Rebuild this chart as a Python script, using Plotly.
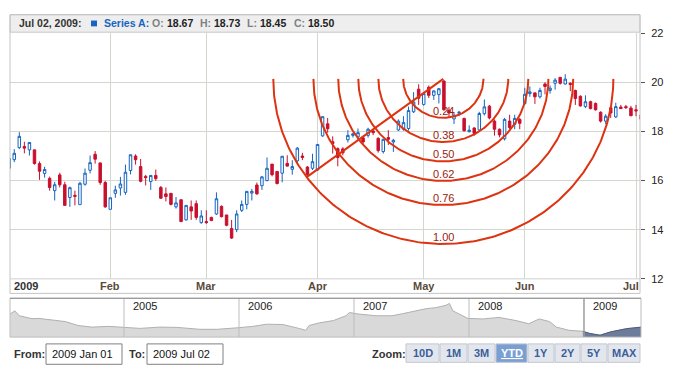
import math
import numpy as np
import plotly.graph_objects as go

W, H = 700, 380

# ---------------- data ----------------
month_labels = ["2009", "Feb", "Mar", "Apr", "May", "Jun", "Jul"]
month_start_idx = [0, 20, 39, 61, 82, 102, 124]

opens = [16.50, 16.85, 17.34, 17.39, 17.25, 17.25, 16.69, 16.29, 16.09, 15.59,
         16.23, 15.83, 15.31, 15.40, 15.02, 15.85, 16.42, 17.07, 16.72, 15.92,
         14.83, 15.48, 15.70, 15.52, 16.41, 17.00, 16.57, 16.17, 15.96, 16.21,
         15.72, 15.46, 15.48, 14.93, 15.22, 14.40, 14.93, 15.06, 14.29, 14.33,
         14.50, 14.64, 14.95, 14.60, 14.05, 14.00, 14.79, 15.03, 15.49, 15.82,
         15.79, 16.00, 16.67, 16.37, 16.30, 16.70, 16.46, 16.80, 17.00, 16.55,
         16.50, 16.43, 17.82, 18.31, 17.58, 17.30, 17.29, 17.66, 17.84, 17.78,
         17.74, 17.84, 18.02, 17.72, 17.18, 17.75, 17.57, 18.06, 18.09, 18.12,
         18.80, 19.72, 19.10, 19.80, 19.47, 19.50, 20.05, 18.86, 18.51, 18.74,
         18.53, 17.99, 18.14, 18.06, 18.72, 19.03, 18.42, 18.09, 17.70, 18.42,
         18.29, 18.49, 19.14, 19.54, 19.57, 19.41, 19.93, 19.67, 19.96, 20.20,
         19.93, 19.96, 19.67, 19.43, 19.01, 19.21, 19.14, 18.78, 18.42, 18.96,
         18.59, 18.99, 19.01, 18.95, 18.88, 18.67]
highs = [17.00, 17.28, 17.97, 17.58, 17.55, 17.25, 16.78, 16.56, 16.16, 15.95,
         16.32, 15.95, 15.75, 15.59, 15.95, 16.49, 17.02, 17.20, 16.72, 15.99,
         15.30, 15.79, 16.15, 16.65, 17.05, 17.07, 16.88, 16.23, 16.21, 16.45,
         15.78, 15.72, 15.48, 15.33, 15.22, 14.99, 15.19, 15.19, 14.79, 14.79,
         14.53, 15.52, 14.99, 14.60, 14.40, 14.79, 15.19, 15.56, 15.66, 15.92,
         16.19, 16.94, 16.67, 16.37, 16.99, 17.03, 16.83, 17.36, 17.13, 16.59,
         17.09, 17.49, 18.62, 18.55, 17.80, 17.35, 17.36, 18.05, 17.95, 18.12,
         17.82, 18.15, 18.10, 17.76, 17.70, 18.05, 17.70, 18.49, 18.62, 19.01,
         19.60, 19.92, 19.60, 19.87, 19.67, 19.76, 20.09, 19.00, 18.78, 18.84,
         18.56, 18.25, 18.17, 18.80, 19.30, 19.08, 18.49, 18.12, 18.55, 18.68,
         18.68, 18.55, 19.78, 19.83, 19.57, 19.78, 20.00, 19.87, 20.17, 20.22,
         20.33, 20.00, 19.70, 19.47, 19.47, 19.25, 19.18, 18.82, 18.70, 19.00,
         19.17, 19.08, 19.08, 19.04, 19.08, 18.73]
lows = [16.40, 16.75, 17.28, 17.11, 17.02, 16.65, 16.03, 16.12, 15.59, 15.19,
        15.72, 14.99, 14.93, 14.99, 15.02, 15.79, 16.29, 16.69, 15.83, 14.89,
        14.83, 15.30, 15.39, 15.42, 16.25, 16.65, 15.93, 15.80, 15.62, 15.99,
        15.25, 15.15, 14.99, 14.86, 14.31, 14.37, 14.40, 14.40, 14.24, 14.24,
        14.37, 14.60, 14.50, 14.14, 13.62, 13.90, 14.72, 14.83, 15.19, 15.42,
        15.62, 15.97, 16.17, 15.84, 15.93, 16.57, 16.24, 16.70, 16.83, 16.10,
        16.43, 16.40, 17.78, 17.95, 17.10, 16.58, 17.03, 17.55, 17.75, 17.66,
        17.49, 17.75, 17.85, 17.14, 17.10, 17.45, 17.17, 18.02, 18.03, 18.03,
        18.75, 19.08, 19.05, 19.36, 19.28, 19.14, 18.85, 18.60, 18.30, 18.62,
        17.99, 17.96, 17.83, 18.03, 18.65, 18.49, 17.83, 17.76, 17.63, 18.09,
        18.09, 18.09, 19.08, 19.41, 19.12, 19.34, 19.51, 19.54, 19.70, 19.91,
        19.91, 19.64, 19.08, 19.01, 18.95, 18.90, 18.85, 18.36, 18.29, 18.55,
        18.55, 18.92, 18.92, 18.62, 18.62, 18.45]
closes = [16.90, 17.11, 17.80, 17.32, 17.55, 16.69, 16.38, 16.45, 15.72, 15.83,
          15.83, 14.99, 15.71, 15.36, 15.89, 16.30, 16.73, 16.87, 15.92, 14.93,
          15.30, 15.62, 15.86, 16.34, 17.05, 16.85, 15.97, 16.12, 16.21, 16.08,
          15.28, 15.35, 15.03, 15.09, 14.33, 14.99, 14.76, 14.50, 14.56, 14.29,
          14.37, 15.26, 14.53, 14.18, 13.66, 14.64, 15.03, 15.56, 15.56, 15.46,
          16.15, 16.50, 16.24, 15.88, 16.99, 16.59, 16.57, 17.32, 16.94, 16.25,
          16.77, 17.47, 18.60, 18.11, 17.51, 16.94, 17.13, 17.84, 17.90, 17.95,
          17.57, 18.09, 17.95, 17.22, 17.68, 17.68, 17.64, 18.42, 18.36, 18.85,
          19.20, 19.35, 19.54, 19.47, 19.65, 19.74, 18.88, 18.75, 18.66, 18.78,
          18.03, 18.05, 17.92, 18.73, 19.00, 18.55, 18.09, 17.86, 18.49, 18.16,
          18.53, 18.33, 19.51, 19.61, 19.41, 19.67, 19.83, 19.76, 20.09, 19.96,
          20.13, 19.91, 19.34, 19.04, 19.21, 18.93, 18.88, 18.42, 18.62, 18.75,
          19.01, 18.93, 18.97, 18.64, 18.84, 18.50]
day_idx = list(range(len(opens)))

y_ticks = [12, 14, 16, 18, 20, 22]

# Fibonacci arc anchors (trading-day index, price)
fib_x = [58.85, 85.88]
fib_y = [16.14, 20.14]
fib_levels = [0.236, 0.382, 0.5, 0.618, 0.764, 1.0]
fib_labels = ["0.24", "0.38", "0.50", "0.62", "0.76", "1.00"]

# navigator (fractional year, value)
nav_year = [2004.01, 2004.05, 2004.09, 2004.20, 2004.26, 2004.35, 2004.49, 2004.60,
            2004.72, 2004.87, 2005.00, 2005.14, 2005.31, 2005.46, 2005.66, 2005.81,
            2006.00, 2006.12, 2006.24, 2006.38, 2006.52, 2006.58, 2006.61, 2006.70,
            2006.82, 2006.93, 2006.96, 2007.04, 2007.19, 2007.33, 2007.42, 2007.54,
            2007.63, 2007.71, 2007.80, 2007.83, 2007.86, 2007.99, 2008.12, 2008.26,
            2008.41, 2008.52, 2008.61, 2008.70, 2008.76, 2008.87, 2008.99, 2009.05,
            2009.14, 2009.23, 2009.37, 2009.50]
nav_value = [34.7, 38.2, 32.8, 29.6, 29.9, 28.6, 26.4, 22.1,
             20.3, 21.1, 20.3, 18.9, 20.3, 20.0, 17.9, 17.9,
             19.7, 21.1, 23.5, 23.2, 18.9, 16.8, 22.1, 25.0,
             27.5, 32.8, 36.4, 34.7, 32.8, 32.8, 35.0, 38.2,
             40.7, 41.7, 44.3, 46.4, 38.2, 29.9, 29.3, 31.0,
             27.5, 24.0, 29.3, 26.4, 20.3, 16.8, 15.7, 13.3,
             11.4, 15.0, 18.6, 20.3]
nav_year_labels = [2005, 2006, 2007, 2008, 2009]

zoom_buttons = ["10D", "1M", "3M", "YTD", "1Y", "2Y", "5Y", "MAX"]
zoom_selected = "YTD"

header_date = "Jul 02, 2009:"
series_name = "Series A:"
ohlc_keys = ["O:", "H:", "L:", "C:"]
ohlc_vals = [18.67, 18.73, 18.45, 18.50]
range_from, range_to = "2009 Jan 01", "2009 Jul 02"

# ---------------- layout helpers ----------------
FONT = "Liberation Sans, Arial, sans-serif"
RED = "#C8102E"
BLUE = "#1565C0"
ARC = "#DD3311"


def X(px):
    return px / W


def Y(py):
    return 1 - py / H


def txt(px, py, text, color="#222222", size=11, anchor="left"):
    return dict(x=X(px), y=Y(py), xref="paper", yref="paper", text=text,
                showarrow=False, xanchor=anchor, yanchor="middle",
                font=dict(family=FONT, size=size, color=color))


PL, PR, PT, PB = 10, 640, 28, 282          # main plot box (px)
x0, x1 = 0.158, 124.79
y0, y1 = 12.0, 22.04
px_x = (PR - PL) / (x1 - x0)
px_y = (PB - PT) / (y1 - y0)

fig = go.Figure()

fig.add_trace(go.Candlestick(
    x=day_idx, open=opens, high=highs, low=lows, close=closes,
    increasing=dict(line=dict(color=BLUE, width=1), fillcolor="white"),
    decreasing=dict(line=dict(color=RED, width=1), fillcolor=RED),
    whiskerwidth=0, showlegend=False, hoverinfo="skip",
    xaxis="x", yaxis="y"))

# Fibonacci arcs (circles in screen space centred on the second anchor)
ax_, bx_ = fib_x
ay_, by_ = fib_y
R = math.hypot((bx_ - ax_) * px_x, (by_ - ay_) * px_y)
fig.add_trace(go.Scatter(x=fib_x, y=fib_y, mode="lines",
                         line=dict(color=ARC, width=2), showlegend=False,
                         hoverinfo="skip", xaxis="x", yaxis="y"))
annotations = []
t = np.linspace(math.pi, 2 * math.pi, 200)
for lvl, lab in zip(fib_levels, fib_labels):
    r = lvl * R
    xs = bx_ + r * np.cos(t) / px_x
    ys = by_ + r * np.sin(t) / px_y
    fig.add_trace(go.Scatter(x=xs, y=ys, mode="lines",
                             line=dict(color=ARC, width=2), showlegend=False,
                             hoverinfo="skip", xaxis="x", yaxis="y"))
    annotations.append(dict(x=bx_, y=by_ - r / px_y, xref="x", yref="y",
                            text=lab, showarrow=False, yanchor="bottom",
                            yshift=-1, font=dict(family=FONT, size=11, color="#992211")))

# navigator areas
fig.add_trace(go.Scatter(x=nav_year, y=nav_value, mode="lines", fill="tozeroy",
                         fillcolor="#d9d9d9", line=dict(color="#b0b0b0", width=1),
                         showlegend=False, hoverinfo="skip", xaxis="x2", yaxis="y2"))
sel = [i for i, yv in enumerate(nav_year) if yv >= 2008.99]
fig.add_trace(go.Scatter(x=[nav_year[i] for i in sel], y=[nav_value[i] for i in sel],
                         mode="lines", fill="tozeroy", fillcolor="#6e7c9c",
                         line=dict(color="#4d5a78", width=1),
                         showlegend=False, hoverinfo="skip", xaxis="x2", yaxis="y2"))

shapes = []
# header bar
shapes.append(dict(type="rect", xref="paper", yref="paper", x0=X(PL), x1=X(PR),
                   y0=Y(28), y1=Y(10), fillcolor="#eeeeee",
                   line=dict(color="#c8c8c8", width=1), layer="below"))
# outer border of chart + label band
shapes.append(dict(type="rect", xref="paper", yref="paper", x0=X(PL), x1=X(PR),
                   y0=Y(297), y1=Y(10), line=dict(color="#c4c4c4", width=1)))
shapes.append(dict(type="line", xref="paper", yref="paper", x0=X(PL), x1=X(PR),
                   y0=Y(PB), y1=Y(PB), line=dict(color="#cfcfcf", width=1)))
# legend square
shapes.append(dict(type="rect", xref="paper", yref="paper", x0=X(91), x1=X(97),
                   y0=Y(22), y1=Y(16), fillcolor=BLUE, line=dict(width=0)))
# navigator frame, year separators, selection edge
NL, NR, NT, NB = 10, 641, 302, 342
for yv in nav_year_labels:
    shapes.append(dict(type="line", xref="x2", yref="paper", x0=yv, x1=yv,
                       y0=Y(NB), y1=Y(NT), line=dict(color="#bdbdbd", width=1),
                       layer="above"))
shapes.append(dict(type="line", xref="x2", yref="paper", x0=2009, x1=2009,
                   y0=Y(NB), y1=Y(NT), line=dict(color="#8e8e8e", width=1)))
shapes.append(dict(type="rect", xref="paper", yref="paper", x0=X(NL), x1=X(NR),
                   y0=Y(NB), y1=Y(NT), line=dict(color="#bcbcbc", width=1)))
shapes.append(dict(type="line", xref="paper", yref="paper", x0=X(NL), x1=X(NR),
                   y0=Y(NT), y1=Y(NT), line=dict(color="#8c8c8c", width=1)))

for yv in nav_year_labels:
    annotations.append(dict(x=yv, y=Y(310), xref="x2", yref="paper", text=str(yv),
                            showarrow=False, xanchor="left", xshift=7, yanchor="middle",
                            font=dict(family=FONT, size=11, color="#222222")))

# month labels
for lab, idx in zip(month_labels, month_start_idx):
    if idx == 0:
        annotations.append(txt(12, 289.5, "<b>%s</b>" % lab, "#333333"))
    elif idx >= 124:
        annotations.append(txt(641, 289.5, "<b>%s</b>" % lab, "#5a4a3a", anchor="right"))
    else:
        annotations.append(dict(x=idx, y=Y(289.5), xref="x", yref="paper",
                                text="<b>%s</b>" % lab, showarrow=False, xanchor="center",
                                yanchor="middle",
                                font=dict(family=FONT, size=11, color="#5a4a3a")))

# header text
HS = 10.5
annotations.append(txt(17, 19, "<b>%s</b>" % header_date, "#333333", HS))
annotations.append(txt(102, 19, "<b>%s</b>" % series_name, BLUE, HS))
key_x = [150, 198, 245, 292]
val_x = [165, 212, 258, 306]
for k, v, kx, vx in zip(ohlc_keys, ohlc_vals, key_x, val_x):
    annotations.append(txt(kx, 19, "<b>%s</b>" % k, "#808080", HS))
    annotations.append(txt(vx, 19, "<b>%.2f</b>" % v, "#222222", HS))

# range inputs
annotations.append(txt(12, 359, "<b>From:</b>", "#333333"))
annotations.append(txt(127, 359, "<b>To:</b>", "#333333"))
for bx0, bx1, tx in [(46, 122, range_from), (147, 223, range_to)]:
    shapes.append(dict(type="rect", xref="paper", yref="paper", x0=X(bx0), x1=X(bx1),
                       y0=Y(370), y1=Y(349), fillcolor="white",
                       line=dict(color="#808080", width=1)))
    annotations.append(txt(bx0 + 4, 359.5, tx, "#111111"))

annotations.append(txt(370, 359, "<b>Zoom:</b>", "#333333"))
edges = [406, 440, 468, 496, 528, 555, 581, 608, 641]
for i, lab in enumerate(zoom_buttons):
    on = lab == zoom_selected
    shapes.append(dict(type="rect", xref="paper", yref="paper", x0=X(edges[i]),
                       x1=X(edges[i + 1] - 1), y0=Y(368), y1=Y(349),
                       fillcolor="#7aa0d2" if on else "#e3e7ed",
                       line=dict(color="#c2c8d2", width=1)))
    label = "<b><u>%s</u></b>" % lab if on else "<b>%s</b>" % lab
    annotations.append(txt((edges[i] + edges[i + 1] - 1) / 2, 358.5, label,
                           "white" if on else "#3a5f9a", anchor="center"))

fig.update_layout(
    width=W, height=H, margin=dict(l=0, r=0, t=0, b=0),
    paper_bgcolor="white", plot_bgcolor="white",
    font=dict(family=FONT, size=11, color="#222222"),
    hovermode=False, showlegend=False,
    shapes=shapes, annotations=annotations,
    xaxis=dict(domain=[X(PL), X(PR)], range=[x0, x1], tickmode="array",
               tickvals=month_start_idx[1:], showticklabels=False, ticks="",
               showgrid=True, gridcolor="#d3d8cf", gridwidth=1, zeroline=False,
               showline=False, rangeslider=dict(visible=False), fixedrange=True),
    yaxis=dict(domain=[Y(PB), Y(PT)], range=[y0, y1], side="right", anchor="x",
               tickmode="array", tickvals=y_ticks, ticks="outside", ticklen=4,
               tickcolor="#555555", tickfont=dict(family=FONT, size=11, color="#222222"),
               showgrid=True, gridcolor="#d3d8cf", gridwidth=1, zeroline=False,
               showline=False, ticklabelstandoff=4),
    xaxis2=dict(domain=[X(NL), X(NR)], range=[2004.0087, 2009.4957], anchor="y2",
                showgrid=False, showticklabels=False, ticks="", zeroline=False,
                showline=False),
    yaxis2=dict(domain=[Y(NB), Y(NT)], range=[9.3, 52.1], anchor="x2",
                showgrid=False, showticklabels=False, ticks="", zeroline=False,
                showline=False),
)

fig.write_html("out.html", config={"displayModeBar": False},
               post_script="document.body.style.margin='0';")
